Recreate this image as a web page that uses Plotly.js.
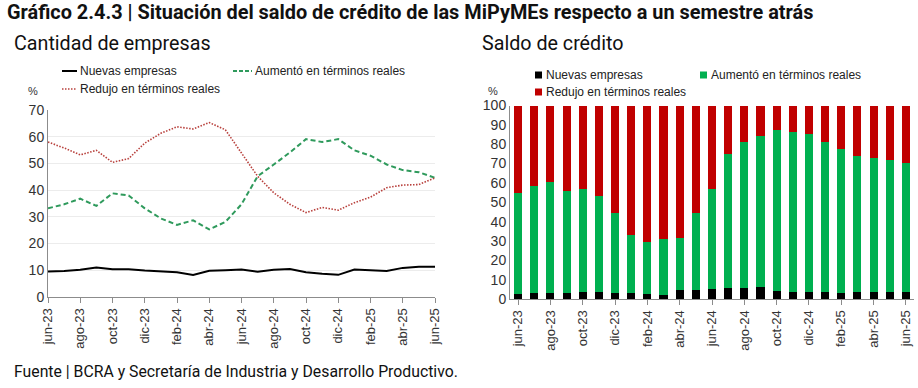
<!DOCTYPE html>
<html>
<head>
<meta charset="utf-8">
<script src="https://cdn.plot.ly/plotly-3.0.1.min.js"></script>
<style>
  html, body { margin: 0; padding: 0; background: #fff; }
  #chart { width: 918px; height: 388px; }
</style>
</head>
<body>
<div id="chart"></div>
<script>
// *********************************************************************************************
// DATA

const MONTHS = ['jun-23', 'jul-23', 'ago-23', 'sep-23', 'oct-23', 'nov-23', 'dic-23', 'ene-24',
    'feb-24', 'mar-24', 'abr-24', 'may-24', 'jun-24', 'jul-24', 'ago-24', 'sep-24', 'oct-24',
    'nov-24', 'dic-24', 'ene-25', 'feb-25', 'mar-25', 'abr-25', 'may-25', 'jun-25'];
const TICK_MONTHS = MONTHS.filter((m, i) => i % 2 === 0);

// Cantidad de empresas (%)
const EMP_NUEVAS = [9.5, 9.7, 10.2, 11.0, 10.4, 10.4, 9.9, 9.7, 9.3, 8.2, 9.8, 10.0, 10.3,
    9.5, 10.2, 10.5, 9.3, 8.7, 8.3, 10.3, 9.9, 9.7, 10.9, 11.3, 11.3];
const EMP_AUMENTO = [33.2, 34.7, 36.8, 34.1, 38.8, 38.0, 33.2, 29.4, 27.0, 28.7, 25.3, 28.1, 34.7,
    45.2, 49.6, 54.1, 59.1, 58.0, 59.1, 54.9, 52.9, 49.6, 47.5, 46.7, 44.6];
const EMP_REDUJO = [58.0, 55.8, 53.2, 54.9, 50.4, 51.8, 57.6, 61.3, 63.7, 62.9, 65.3, 62.6, 53.9,
    45.2, 39.0, 34.7, 31.6, 33.5, 32.5, 35.3, 37.4, 40.9, 41.9, 42.1, 44.6];

// Saldo de crédito (%)
const CRED_NUEVAS = [2.6, 3.3, 3.3, 3.3, 3.6, 3.6, 3.3, 2.9, 2.6, 2.1, 4.5, 4.7, 5.0,
    5.5, 5.9, 6.2, 4.1, 3.8, 3.6, 3.6, 3.1, 3.4, 3.6, 3.4, 3.4];
const CRED_AUMENTO = [52.1, 55.3, 57.2, 52.6, 53.5, 49.7, 41.0, 30.2, 26.9, 28.9, 27.2, 39.6, 51.7,
    69.5, 75.1, 77.9, 83.1, 82.6, 81.6, 77.4, 74.3, 70.4, 69.5, 68.5, 66.9];
const CRED_REDUJO = [45.3, 41.4, 39.5, 44.1, 42.9, 46.7, 55.7, 66.9, 70.5, 69.0, 68.3, 55.7, 43.3,
    25.0, 19.0, 15.9, 12.8, 13.6, 14.8, 19.0, 22.6, 26.2, 26.9, 28.1, 29.7];

const SERIES_NAMES = ['Nuevas empresas', 'Aumentó en términos reales', 'Redujo en términos reales'];


// *********************************************************************************************
// HELPERS (pixel -> paper)

const W = 918, H = 388;
const px = (x) => x / W;
const py = (y) => 1 - y / H;

const GREEN_LINE = '#2f9a5c';
const RED_LINE = '#b8403c';
const GREEN_BAR = '#00b050';
const RED_BAR = '#c00000';
const AXIS_GREY = '#8c8c8c';


// *********************************************************************************************
// TRACES

let data = [
    { name: SERIES_NAMES[0], type: 'scatter', mode: 'lines', x: MONTHS, y: EMP_NUEVAS,
      line: { color: '#000000', width: 2 }, xaxis: 'x', yaxis: 'y' },
    { name: SERIES_NAMES[1], type: 'scatter', mode: 'lines', x: MONTHS, y: EMP_AUMENTO,
      line: { color: GREEN_LINE, width: 2, dash: '5px,3px' }, xaxis: 'x', yaxis: 'y' },
    { name: SERIES_NAMES[2], type: 'scatter', mode: 'lines', x: MONTHS, y: EMP_REDUJO,
      line: { color: RED_LINE, width: 1.6, dash: '1.5px,1.5px' }, xaxis: 'x', yaxis: 'y' },

    { name: SERIES_NAMES[0], type: 'bar', x: MONTHS, y: CRED_NUEVAS,
      marker: { color: '#000000' }, xaxis: 'x2', yaxis: 'y2' },
    { name: SERIES_NAMES[1], type: 'bar', x: MONTHS, y: CRED_AUMENTO,
      marker: { color: GREEN_BAR }, xaxis: 'x2', yaxis: 'y2' },
    { name: SERIES_NAMES[2], type: 'bar', x: MONTHS, y: CRED_REDUJO,
      marker: { color: RED_BAR }, xaxis: 'x2', yaxis: 'y2' }
];


// *********************************************************************************************
// LAYOUT

const tickFont = { family: 'Liberation Sans, Arial, sans-serif', size: 13, color: '#333333' };

const xCommon = {
    type: 'category',
    tickmode: 'array',
    tickvals: TICK_MONTHS,
    ticktext: TICK_MONTHS,
    tickangle: -90,
    ticks: 'outside',
    ticklen: 5,
    tickcolor: AXIS_GREY,
    showline: true,
    linecolor: AXIS_GREY,
    linewidth: 1,
    showgrid: false,
    zeroline: false,
    tickfont: tickFont,
    fixedrange: true
};

const yCommon = {
    showline: true,
    linecolor: AXIS_GREY,
    linewidth: 1,
    ticks: '',
    zeroline: false,
    tickfont: { family: 'Liberation Sans, Arial, sans-serif', size: 14, color: '#333333' },
    fixedrange: true
};

// legend samples drawn as shapes, labels as annotations
const legendFont = { family: 'Liberation Sans, Arial, sans-serif', size: 12, color: '#222222' };

const lineSample = (x0, x1, y, color, dash, width) => ({
    type: 'line', xref: 'paper', yref: 'paper',
    x0: px(x0), x1: px(x1), y0: py(y), y1: py(y),
    line: { color: color, width: width, dash: dash }
});
const squareSample = (x0, y, color) => ({
    type: 'rect', xref: 'paper', yref: 'paper',
    x0: px(x0), x1: px(x0 + 7), y0: py(y + 3.5), y1: py(y - 3.5),
    fillcolor: color, line: { width: 0 }
});
const label = (x, y, text, font, opts) => Object.assign({
    xref: 'paper', yref: 'paper', x: px(x), y: py(y), text: text,
    showarrow: false, xanchor: 'left', yanchor: 'middle', font: font
}, opts || {});

let layout = {
    width: W,
    height: H,
    margin: { t: 0, r: 0, b: 0, l: 0 },
    paper_bgcolor: '#ffffff',
    plot_bgcolor: '#ffffff',
    showlegend: false,
    barmode: 'stack',
    bargap: 0.5,

    xaxis: Object.assign({}, xCommon, {
        domain: [px(48), px(435)],
        range: [0, 24],
        anchor: 'y'
    }),
    yaxis: Object.assign({}, yCommon, {
        domain: [py(297), py(110)],
        range: [0, 70],
        dtick: 10,
        showgrid: true,
        gridcolor: '#ececec',
        anchor: 'x'
    }),
    xaxis2: Object.assign({}, xCommon, {
        domain: [px(510), px(914)],
        range: [-0.5, 24.5],
        anchor: 'y2'
    }),
    yaxis2: Object.assign({}, yCommon, {
        domain: [py(299), py(105.5)],
        range: [0, 100],
        dtick: 10,
        showgrid: false,
        anchor: 'x2'
    }),

    shapes: [
        lineSample(62, 77, 71, '#000000', 'solid', 2),
        lineSample(233, 252, 71, GREEN_LINE, '4px,2px', 2),
        lineSample(62, 77, 89, RED_LINE, '1.5px,1.5px', 1.6),
        squareSample(535, 75, '#000000'),
        squareSample(700, 75, GREEN_BAR),
        squareSample(535, 92, RED_BAR)
    ],

    annotations: [
        label(5, 12, '<b>Gráfico 2.4.3 | Situación del saldo de crédito de las MiPyMEs respecto a un semestre atrás</b>',
            { family: 'Roboto, sans-serif', size: 19.9, color: '#111111' }),
        label(12, 43, 'Cantidad de empresas', { family: 'Roboto, sans-serif', size: 19.7, color: '#111111' }),
        label(480, 43, 'Saldo de crédito', { family: 'Roboto, sans-serif', size: 19.7, color: '#111111' }),

        label(78, 71, SERIES_NAMES[0], legendFont),
        label(253, 71, SERIES_NAMES[1], legendFont),
        label(78, 89, SERIES_NAMES[2], legendFont),
        label(544, 75, SERIES_NAMES[0], legendFont),
        label(709, 75, SERIES_NAMES[1], legendFont),
        label(544, 92, SERIES_NAMES[2], legendFont),

        label(26, 91, '%', { family: 'Liberation Sans, Arial, sans-serif', size: 11, color: '#333333' }),
        label(486, 91, '%', { family: 'Liberation Sans, Arial, sans-serif', size: 11, color: '#333333' }),

        label(12, 371, 'Fuente | BCRA y Secretaría de Industria y Desarrollo Productivo.',
            { family: 'Roboto, sans-serif', size: 15.8, color: '#111111' })
    ]
};


// *********************************************************************************************
// CONFIG

const config = {
    displaylogo: false,
    displayModeBar: false,
    staticPlot: true
};


// *********************************************************************************************
// CREATE

Plotly.newPlot('chart', data, layout, config);
</script>
</body>
</html>
